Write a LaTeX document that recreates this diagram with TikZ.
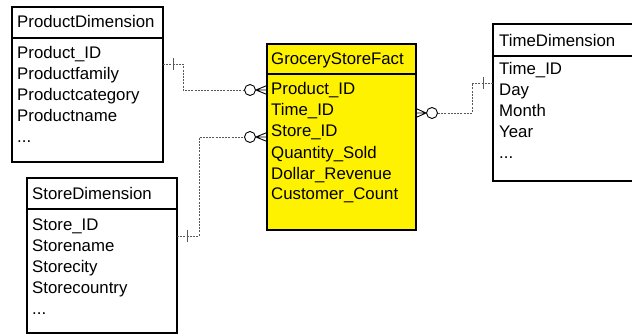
\documentclass[tikz,border=0pt]{standalone}
\usepackage{fontspec}
\setmainfont{Liberation Sans}
\begin{document}
\begin{tikzpicture}[x=1pt,y=-1pt,
  tbl/.style={draw=black, line width=1.3pt, anchor=north west, inner sep=0, outer sep=0},
  txt/.style={anchor=base west, inner sep=0, font=\fontsize{16.8}{20}\selectfont},
  conn/.style={draw=black!65, line width=0.9pt, dash pattern=on 2pt off 1.2pt},
  tickmark/.style={draw=black!65, line width=0.9pt},
  circ/.style={circle, draw=black, line width=0.9pt, fill=white, minimum size=11pt, inner sep=0},
  foot/.style={draw=black, line width=0.9pt},
  divider/.style={draw=black, line width=1.3pt}]
\useasboundingbox (0,0) rectangle (632,334);
\clip (0,0) rectangle (632,334);

% ProductDimension
\node[tbl, minimum width=151pt, minimum height=155pt] (pd) at (12,7) {};
\draw[divider] (12,38) -- (163,38);
\node[txt] (pdh) at (17,28) {ProductDimension};
\foreach \t [count=\i] in {Product\_ID,Productfamily,Productcategory,Productname}
  \node[txt] (pd\i) at (17,{38+21*\i}) {\t};
\node[txt] (pd5) at (17,143) {.\kern0pt.\kern0pt.};

% StoreDimension
\node[tbl, minimum width=150pt, minimum height=155pt] (sd) at (27,178) {};
\draw[divider] (27,209) -- (177,209);
\node[txt] (sdh) at (32,199) {StoreDimension};
\foreach \t [count=\i] in {Store\_ID,Storename,Storecity,Storecountry}
  \node[txt] (sd\i) at (32,{209+21*\i}) {\t};
\node[txt] (sd5) at (32,314) {.\kern0pt.\kern0pt.};

% GroceryStoreFact
\node[tbl, fill=yellow, minimum width=149pt, minimum height=186pt] (gf) at (267,44) {};
\draw[divider] (267,74) -- (416,74);
\node[txt] (gfh) at (271,65) {GroceryStoreFact};
\foreach \t [count=\i] in {Product\_ID,Time\_ID,Store\_ID,Quantity\_Sold,Dollar\_Revenue,Customer\_Count}
  \node[txt] (gf\i) at (271,{74+21*\i}) {\t};

% TimeDimension
\node[tbl, minimum width=150pt, minimum height=157pt] (td) at (493,24) {};
\draw[divider] (493,56) -- (643,56);
\node[txt] (tdh) at (499,47) {TimeDimension};
\foreach \t [count=\i] in {Time\_ID,Day,Month,Year}
  \node[txt] (td\i) at (499,{54+21*\i}) {\t};
\node[txt] (td5) at (499,159) {.\kern0pt.\kern0pt.};

% Connector Product -> Fact
\coordinate (pdR) at (163,64);
\node[circ] (c1) at (250,90) {};
\draw[conn] (pdR) -- (183,64) -- (183,90) -- (c1.west);
\draw[tickmark] (173,58) -- (173,70);
\draw[foot] (c1.east) -- (267,85.5) (c1.east) -- (267,90) (c1.east) -- (267,94.5);

% Connector Store -> Fact
\coordinate (sdR) at (177,236);
\node[circ] (c2) at (250,137) {};
\draw[conn] (sdR) -- (199,236) -- (199,137) -- (c2.west);
\draw[tickmark] (187,230) -- (187,242);
\draw[foot] (c2.east) -- (267,132.5) (c2.east) -- (267,137) (c2.east) -- (267,141.5);

% Connector Time -> Fact
\coordinate (tdL) at (493,83);
\node[circ] (c3) at (432,113) {};
\draw[conn] (c3.east) -- (472,113) -- (472,83) -- (tdL);
\draw[tickmark] (483,77) -- (483,89);
\draw[foot] (c3.west) -- (416,108.5) (c3.west) -- (416,113) (c3.west) -- (416,117.5);
\end{tikzpicture}
\end{document}
